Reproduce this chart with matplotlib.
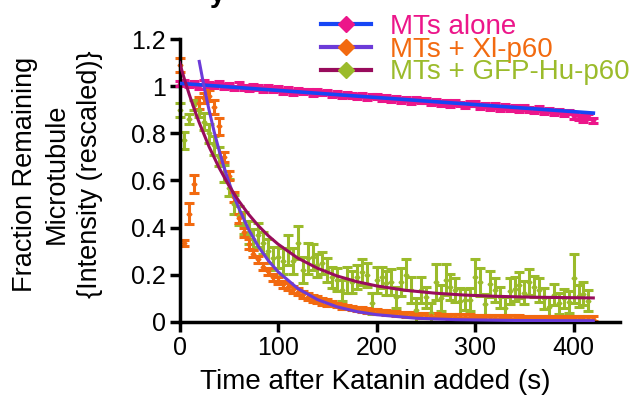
import matplotlib

matplotlib.use("Agg")
import matplotlib.pyplot as plt
import numpy as np
from matplotlib.lines import Line2D
from matplotlib.ticker import FuncFormatter

plt.rcParams["font.family"] = ["Liberation Sans", "DejaVu Sans"]

# time after katanin added (s), one frame every 5 s
time_s = np.arange(0, 425, 5)

# MTs alone (pink)
alone = [1.010, 1.018, 1.005, 1.012, 1.000, 1.015, 1.008, 1.002, 1.012, 0.998,
         1.002, 0.992, 1.006, 0.995, 0.988, 1.000, 0.993, 0.985, 0.996, 0.987,
         0.990, 0.978, 0.985, 0.972, 0.983, 0.976, 0.980, 0.968, 0.977, 0.971,
         0.975, 0.962, 0.970, 0.958, 0.966, 0.960, 0.955, 0.963, 0.950, 0.958,
         0.957, 0.948, 0.953, 0.942, 0.950, 0.940, 0.946, 0.936, 0.944, 0.938,
         0.940, 0.930, 0.936, 0.926, 0.933, 0.921, 0.930, 0.924, 0.918, 0.928,
         0.925, 0.915, 0.920, 0.910, 0.918, 0.906, 0.915, 0.905, 0.912, 0.902,
         0.910, 0.900, 0.896, 0.905, 0.893, 0.899, 0.888, 0.895, 0.885, 0.890,
         0.872, 0.866, 0.858, 0.870, 0.855]
alone_err = 0.010

# MTs + Xl-p60 (orange)
xl = [1.09, 0.335, 0.46, 0.585, 0.93, 0.95, 0.96, 0.91, 0.83, 0.70,
      0.62, 0.53, 0.44, 0.38, 0.33, 0.29, 0.265, 0.235, 0.215, 0.19,
      0.175, 0.16, 0.15, 0.138, 0.128, 0.118, 0.108, 0.100, 0.094, 0.088,
      0.082, 0.077, 0.072, 0.067, 0.063, 0.059, 0.055, 0.052, 0.049, 0.046,
      0.044, 0.042, 0.040, 0.038, 0.036, 0.034, 0.033, 0.031, 0.030, 0.029,
      0.028, 0.027, 0.026, 0.025, 0.025, 0.024, 0.023, 0.023, 0.022, 0.022,
      0.021, 0.021, 0.020, 0.020, 0.019, 0.019, 0.019, 0.018, 0.018, 0.018,
      0.017, 0.017, 0.017, 0.016, 0.016, 0.016, 0.016, 0.015, 0.015, 0.015,
      0.015, 0.014, 0.014, 0.014, 0.014]
xl_err = ([0.03, 0.012, 0.045, 0.04, 0.025, 0.02, 0.025, 0.03, 0.035, 0.02,
           0.02, 0.02, 0.02, 0.02, 0.02] + [0.015] * 16 + [0.01] * 54)

# MTs + GFP-Hu-p60 (green), last frame at 415 s
hu = [0.90, 0.77, 0.86, 0.92, 0.90, 0.85, 0.80, 0.75, 0.70, 0.63,
      0.57, 0.50, 0.45, 0.42, 0.38, 0.35, 0.37, 0.335, 0.30, 0.27,
      0.275, 0.26, 0.305, 0.26, 0.335, 0.22, 0.27, 0.275, 0.24, 0.25,
      0.22, 0.19, 0.18, 0.135, 0.18, 0.17, 0.19, 0.21, 0.20, 0.08,
      0.18, 0.19, 0.165, 0.17, 0.105, 0.17, 0.20, 0.135, 0.05, 0.135,
      0.105, 0.04, 0.17, 0.10, 0.18, 0.15, 0.135, 0.09, 0.095, 0.095,
      0.19, 0.17, 0.075, 0.16, 0.135, 0.105, 0.06, 0.13, 0.14, 0.155,
      0.125, 0.17, 0.15, 0.135, 0.10, 0.065, 0.115, 0.08, 0.10, 0.085,
      0.185, 0.11, 0.12, 0.09]
hu_err = [0.03, 0.035, 0.02, 0.02, 0.03, 0.035, 0.04, 0.04, 0.04, 0.035,
          0.035, 0.04, 0.04, 0.045, 0.05, 0.045, 0.05, 0.045, 0.05, 0.05,
          0.045, 0.055, 0.065, 0.055, 0.07, 0.055, 0.065, 0.055, 0.05, 0.045,
          0.05, 0.045, 0.05, 0.045, 0.055, 0.045, 0.05, 0.055, 0.05, 0.045,
          0.055, 0.045, 0.05, 0.055, 0.045, 0.06, 0.065, 0.055, 0.05, 0.055,
          0.045, 0.04, 0.075, 0.055, 0.065, 0.055, 0.05, 0.055, 0.045, 0.05,
          0.075, 0.06, 0.045, 0.055, 0.05, 0.045, 0.045, 0.055, 0.05, 0.055,
          0.05, 0.055, 0.045, 0.05, 0.045, 0.04, 0.045, 0.045, 0.04, 0.045,
          0.105, 0.045, 0.05, 0.045]

# fitted curves
alone_fit_t = [0, 420]
alone_fit = [1.012, 0.886]
xl_fit_t = [20, 25, 30, 35, 40, 45, 50, 55, 60, 70, 80, 90, 100, 120, 140,
            160, 180, 200, 240, 280, 340, 420]
xl_fit = [1.105, 0.995, 0.898, 0.809, 0.730, 0.658, 0.594, 0.536, 0.484,
          0.393, 0.320, 0.261, 0.213, 0.142, 0.095, 0.064, 0.044, 0.031,
          0.016, 0.010, 0.0064, 0.0053]
hu_fit_t = [0, 5, 10, 15, 20, 30, 40, 50, 60, 70, 80, 90, 100, 120, 140, 160,
            180, 200, 230, 260, 290, 320, 360, 420]
hu_fit = [1.100, 1.029, 0.963, 0.902, 0.845, 0.743, 0.655, 0.579, 0.514,
          0.457, 0.408, 0.366, 0.330, 0.271, 0.228, 0.195, 0.171, 0.153,
          0.134, 0.122, 0.114, 0.109, 0.105, 0.102]

labels = ["MTs alone", "MTs + Xl-p60", "MTs + GFP-Hu-p60"]
PINK = "#ec168a"
ORANGE = "#f26a10"
GREEN = "#9bbb2b"
BLUE = "#1746f5"
PURPLE = "#6c3bd8"
MAROON = "#980c5c"

fig = plt.figure(figsize=(6.3, 3.96), dpi=100)
ax = fig.add_axes([0.285, 0.1869, 0.699, 0.7146])

eb_kw = dict(fmt="D", ms=2.5, capsize=3.5, elinewidth=2.2, capthick=2.2,
             clip_on=False, zorder=2)
ax.errorbar(time_s[:len(hu)], hu, yerr=hu_err, color=GREEN, **eb_kw)
ax.errorbar(time_s, xl, yerr=xl_err, color=ORANGE, **eb_kw)
ax.errorbar(time_s, alone, yerr=alone_err, color=PINK, **eb_kw)

ax.plot(alone_fit_t, alone_fit, color=BLUE, lw=2.6, zorder=4)
ax.plot(xl_fit_t, xl_fit, color=PURPLE, lw=2.2, zorder=4)
ax.plot(hu_fit_t, hu_fit, color=MAROON, lw=2.2, zorder=4)

ax.set_xlim(0, 447)
ax.set_ylim(0, 1.2)
ax.set_xticks([0, 100, 200, 300, 400])
ax.set_yticks([0, 0.2, 0.4, 0.6, 0.8, 1.0, 1.2])
ax.yaxis.set_major_formatter(FuncFormatter(lambda v, p: f"{v:g}"))
for side in ["top", "right"]:
    ax.spines[side].set_visible(False)
for side in ["left", "bottom"]:
    ax.spines[side].set_linewidth(2.5)
ax.tick_params(direction="out", length=7, width=2.5, labelsize=18, pad=3)

fig.text(375 / 630, 1 - 389 / 396, "Time after Katanin added (s)",
         fontsize=20, ha="center", va="baseline")

for txt, xpx in zip(["Fraction Remaining", "Microtubule",
                     "{Intensity (rescaled)}"], [25, 57, 90]):
    fig.text(xpx / 630, 1 - 174 / 396, txt, rotation=90, fontsize=19.5,
             ha="center", va="center")

# descender of a cut-off title at the top edge
fig.text(210 / 630, 1 - 2 / 396, "y", fontsize=20, fontweight="bold",
         ha="left", va="baseline")

handles = [Line2D([], [], color=c, lw=3, marker="D", ms=8, mfc=m, mec=m)
           for c, m in [(BLUE, PINK), (PURPLE, ORANGE), (MAROON, GREEN)]]
fig.legend(handles, labels, loc="upper left",
           bbox_to_anchor=(321 / 630, 1 - 14 / 396), frameon=False,
           fontsize=20, handlelength=1.8, handletextpad=0.7,
           labelspacing=-0.12, borderpad=0, borderaxespad=0,
           labelcolor=[PINK, ORANGE, GREEN])

fig.savefig("out.png", dpi=100)
